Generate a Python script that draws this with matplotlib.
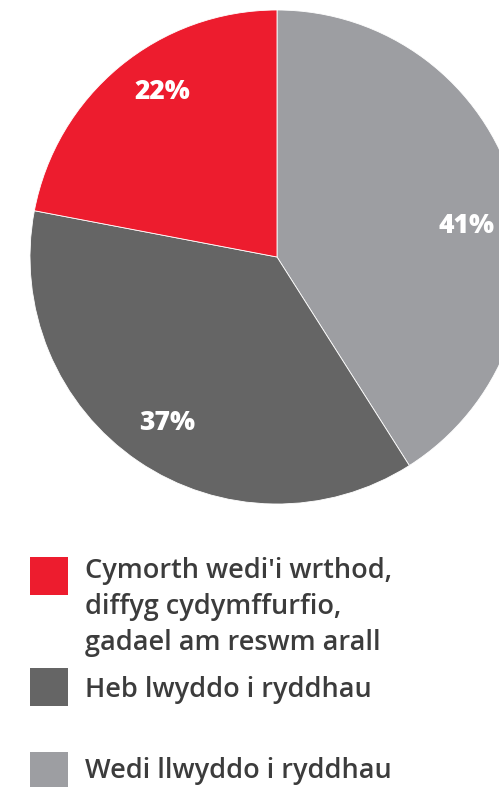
import matplotlib
matplotlib.use("Agg")
import matplotlib.pyplot as plt
from matplotlib.patches import Rectangle

# Share of outcomes
categories = [
    "Wedi llwyddo i ryddhau",
    "Heb lwyddo i ryddhau",
    "Cymorth wedi'i wrthod,\ndiffyg cydymffurfio,\ngadael am reswm arall",
]
values = [41, 37, 22]
colors = ["#9d9ea2", "#656565", "#ed1c2e"]
pct_labels = [f"{v}%" for v in values]

W, H = 499, 787
fig = plt.figure(figsize=(W / 100, H / 100), dpi=100)
ax = fig.add_axes([0, 0, 1, 1])

cx, cy, r = 277, H - 257, 247
ax.pie(values, colors=colors, startangle=90, counterclock=False,
       center=(cx, cy), radius=r, frame=True,
       wedgeprops=dict(linewidth=0.6, edgecolor="white"))
ax.set_xlim(0, W)
ax.set_ylim(0, H)
ax.set_aspect("equal")
ax.axis("off")

# Percentage labels inside the slices
label_pos = [(467, H - 226), (167, H - 423), (162, H - 92)]
for (x, y), t in zip(label_pos, pct_labels):
    ax.text(x, y, t, color="white", fontsize=19, fontweight="heavy",
            family="Open Sans", ha="center", va="center")

# Legend: red, dark, light from top to bottom
legend_rows = [(2, 557, 578), (1, 668, 697), (0, 752, 778)]
for idx, top, base in legend_rows:
    ax.add_patch(Rectangle((30, H - top - 38), 38, 38, color=colors[idx], lw=0))
    lines = categories[idx].split("\n")
    for k, line in enumerate(lines):
        ax.text(85, H - (base + 36 * k), line, color="#3c3c3c", fontsize=19.5,
                family="Open Sans", fontweight="semibold", ha="left", va="baseline")

fig.savefig("out.png", dpi=100)
